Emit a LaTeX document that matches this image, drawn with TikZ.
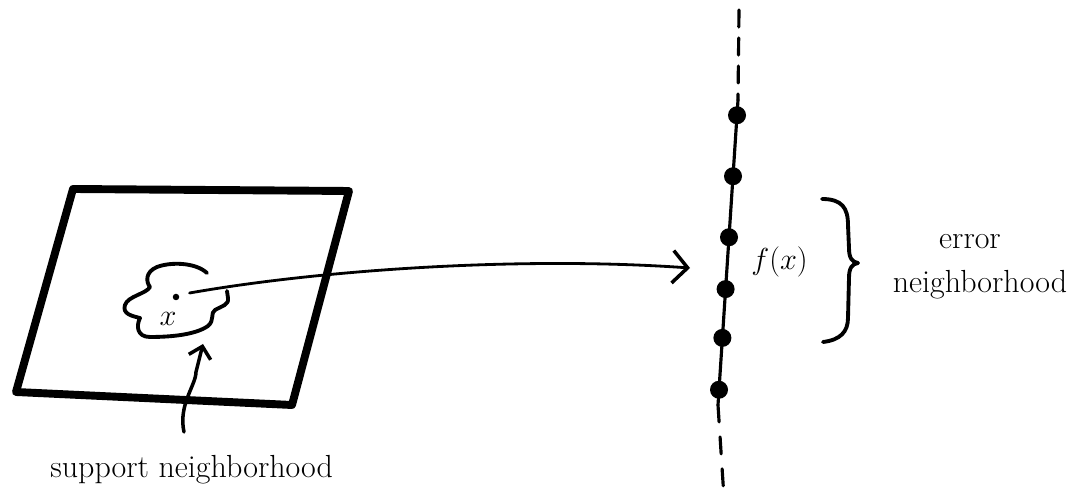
\documentclass[tikz,border=0pt]{standalone}
\usetikzlibrary{arrows.meta,calc}

\begin{document}
\begin{tikzpicture}[x=0.02cm,y=-0.02cm,line cap=round,line join=round,
    dot/.style={circle,fill,inner sep=0pt,minimum size=0.36cm},
    lbl/.style={font=\fontsize{18.2}{22}\selectfont,inner sep=0pt}]
    \useasboundingbox (0,0) rectangle (1072,502);
    % support plane
    \draw[line width=4.5pt] (73,189) -- (349,191) -- (292,405) -- (16,392) -- cycle;
    % blob round x
    \draw[line width=2.2pt] (207,273) .. controls (195,262) and (170,262) .. (157,267)
      .. controls (145,272) and (146,282) .. (150,287)
      .. controls (146,294) and (128,296) .. (125,305)
      .. controls (122,314) and (132,316) .. (140,318)
      .. controls (136,326) and (137,337) .. (150,337)
      .. controls (170,337) and (195,335) .. (208,326)
      .. controls (215,320) and (210,313) .. (215,310)
      .. controls (222,306) and (229,305) .. (228,298)
      -- (227,291);
    \node[dot,minimum size=0.13cm] (x) at (176,297) {};
    \node[lbl] (xlbl) at (168,319) {$x$};
    % image line
    \coordinate (top) at (739,10);
    \coordinate (st) at (738,100);
    \coordinate (sb) at (718,405);
    \coordinate (bot) at (724,498);
    \draw[line width=1.8pt,dash pattern=on 0.34cm off 0.22cm] (top) -- (st);
    \draw[line width=1.8pt] (st) -- (sb);
    \draw[line width=1.8pt,dash pattern=on 0.34cm off 0.3cm] (sb) -- (bot);
    \foreach \p in {0.05,0.25,0.45,0.62,0.78,0.95}
      \node[dot] at ($(st)!\p!(sb)$) {};
    % map arrow
    \coordinate (fx) at (690,268);
    \draw[line width=1.6pt,-{Straight Barb[length=3mm,width=6.5mm,line width=2pt]}]
      (x.east) ++(10,-4) .. controls (320,270) and (520,256) .. (fx);
    \node[lbl,anchor=west] (flbl) at (751,262) {$f(x)$};
    % brace
    \draw[line width=2.2pt] (822,199) .. controls (842,199) and (848,208) .. (848,225)
      -- (849,248) .. controls (849,258) and (852,262) .. (858,263)
      .. controls (852,264) and (849,268) .. (849,278)
      -- (848,318) .. controls (848,332) and (840,340) .. (823,342);
    \node[lbl] (err) at (970,242) {error};
    \node[lbl] (errnb) at (980,285) {neighborhood};
    % support label and arrow
    \node[lbl,anchor=west] (supp) at (50,470) {support neighborhood};
    \coordinate (sa) at (184,432);
    \draw[line width=2pt,-{Straight Barb[length=2.2mm,width=4.5mm,line width=2pt]}]
      (sa) .. controls (178,405) and (196,385) .. (196,372) -- (203,344);
\end{tikzpicture}
\end{document}
